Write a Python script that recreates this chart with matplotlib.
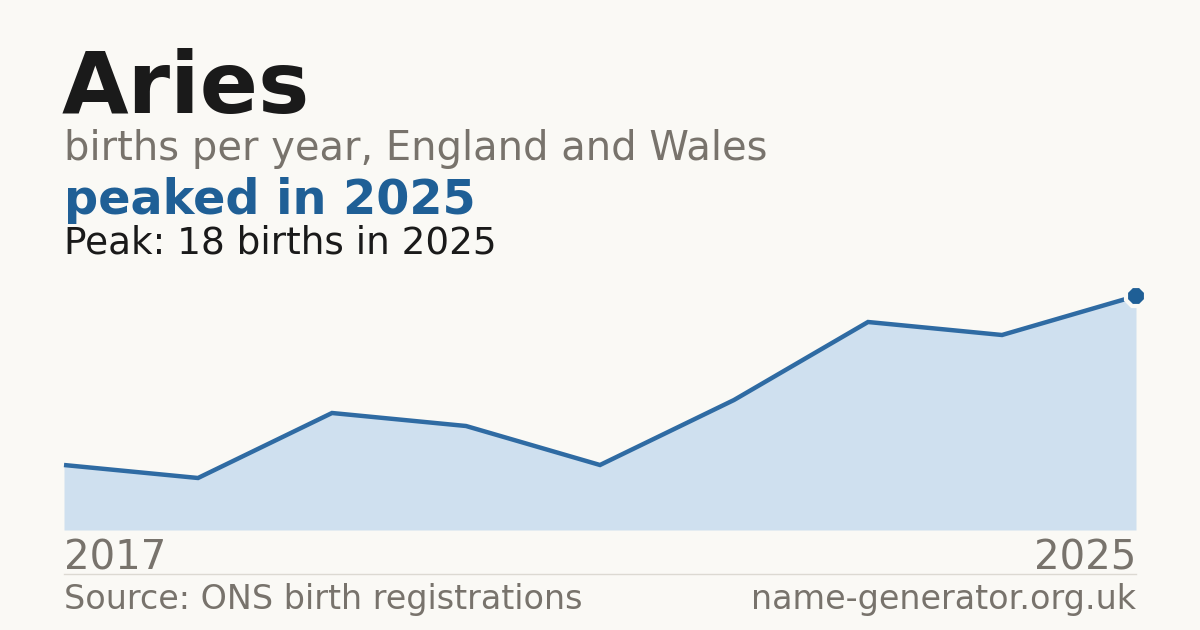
import matplotlib.pyplot as plt
import numpy as np

# data
years = [2017, 2018, 2019, 2020, 2021, 2022, 2023, 2024, 2025]
births = [5, 4, 9, 8, 5, 10, 16, 15, 18]

title = 'Aries'
subtitle = 'births per year, England and Wales'
headline = 'peaked in 2025'
peak_text = 'Peak: 18 births in 2025'
source = 'Source: ONS birth registrations'
site = 'name-generator.org.uk'

BG = '#faf9f5'
INK = '#1a1a1a'
GREY = '#78736c'
BLUE = '#1f5f96'
LINE = '#2f6ba3'
FILL = '#cfe0ef'

W, H = 1200, 630
fig = plt.figure(figsize=(W / 100, H / 100), dpi=100, facecolor=BG)


def fx(px):
    return px / W


def fy(py):
    return 1 - py / H


# plot area: 2017 at x=64, 2025 at x=1136, 0 at y=530, 18 at y=296
ax = fig.add_axes([fx(64), fy(530), fx(1136 - 64), (530 - 296) / H])
ax.set_facecolor('none')
ax.fill_between(years, births, 0, color=FILL, linewidth=0)
ax.plot(years, births, color=LINE, linewidth=3.2, solid_capstyle='butt',
        solid_joinstyle='miter', clip_on=False)
ax.plot(years[-1], births[-1], marker='8', markersize=15, color=BLUE,
        markeredgecolor=BG, markeredgewidth=3, clip_on=False, zorder=5)
ax.set_xlim(years[0], years[-1])
ax.set_ylim(0, max(births))
ax.axis('off')

# texts
fig.text(fx(62), fy(113), title, fontsize=62, fontweight='bold', color=INK,
         va='baseline', ha='left')
fig.text(fx(64), fy(160), subtitle, fontsize=28.8, color=GREY,
         va='baseline', ha='left')
fig.text(fx(64), fy(214), headline, fontsize=34.4, fontweight='bold', color=BLUE,
         va='baseline', ha='left')
fig.text(fx(64), fy(253), peak_text, fontsize=26.9, color=INK,
         va='baseline', ha='left')

fig.text(fx(64), fy(570), str(years[0]), fontsize=29, color=GREY,
         va='baseline', ha='left')
fig.text(fx(1136), fy(570), str(years[-1]), fontsize=29, color=GREY,
         va='baseline', ha='right')

# separator
fig.add_artist(plt.Line2D([fx(64), fx(1136)], [fy(574), fy(574)],
                          color='#dcd9d2', linewidth=1))

fig.text(fx(64), fy(609), source, fontsize=24, color=GREY,
         va='baseline', ha='left')
fig.text(fx(1136), fy(609), site, fontsize=24, color=GREY,
         va='baseline', ha='right')

fig.savefig('out.png', dpi=100, facecolor=BG)
